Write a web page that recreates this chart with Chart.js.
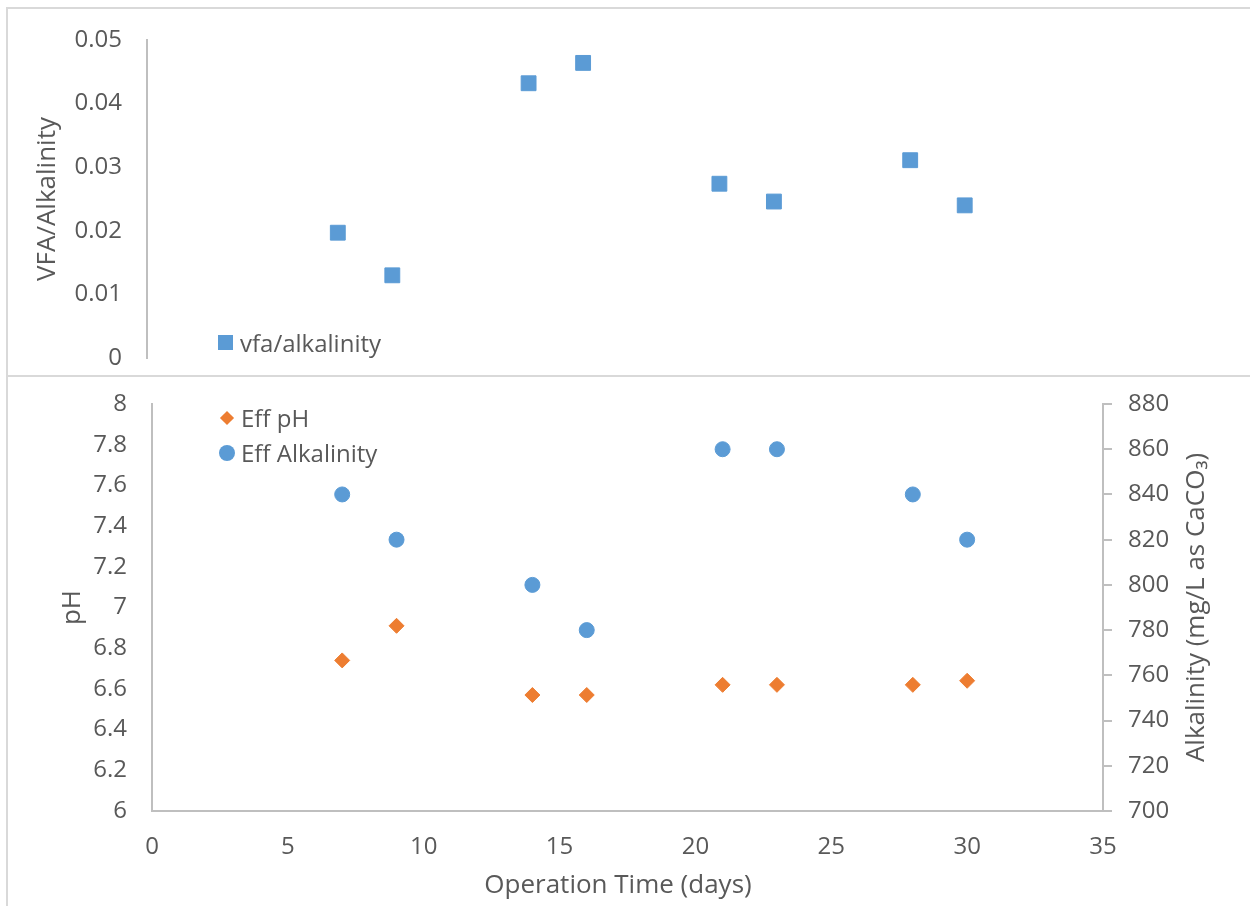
<!DOCTYPE html>
<html>
<head>
<meta charset="utf-8">
<script src="https://cdn.jsdelivr.net/npm/chart.js@4/dist/chart.umd.min.js"></script>
<style>
  html, body { margin: 0; padding: 0; background: #fff; }
  body { width: 1250px; height: 906px; position: relative; overflow: hidden; font-family: 'Open Sans', sans-serif; color: #595959; }
  canvas { position: absolute; left: 0; }
  #vfaChart { top: 0; }
  #phChart { top: 376px; }
  .frame { position: absolute; background: #d9d9d9; }
  .legend { position: absolute; font-size: 24px; line-height: 35px; color: #595959; }
  .legend div { position: relative; padding-left: 22px; white-space: nowrap; }
  .mk { position: absolute; left: 0; top: 50%; }
  .mk.sq { width: 15px; height: 15px; margin-top: -8px; background: #5b9bd5; }
  .mk.dia { width: 10px; height: 10px; margin-top: -5px; margin-left: 3px; background: #ed7d31; transform: rotate(45deg); }
  .mk.dot { width: 16px; height: 16px; margin-top: -8px; border-radius: 50%; background: #5b9bd5; }
</style>
</head>
<body>
<canvas id="vfaChart" width="1250" height="376"></canvas>
<canvas id="phChart" width="1250" height="530"></canvas>

<!-- chart frames -->
<div class="frame" style="left:7px;top:7px;width:1243px;height:2px"></div>
<div class="frame" style="left:7px;top:375px;width:1243px;height:2px"></div>
<div class="frame" style="left:6px;top:7px;width:2px;height:899px"></div>

<div class="legend" style="left:218px;top:325px">
  <div><span class="mk sq"></span>vfa/alkalinity</div>
</div>
<div class="legend" style="left:219px;top:400px">
  <div><span class="mk dia"></span>Eff pH</div>
  <div><span class="mk dot"></span>Eff Alkalinity</div>
</div>

<script>
// ---- data ----
const days      = [7, 9, 14, 16, 21, 23, 28, 30];
const vfaRatio  = [0.0197, 0.0130, 0.0432, 0.0464, 0.0274, 0.0246, 0.0311, 0.0240];
const effPH     = [6.74, 6.91, 6.57, 6.57, 6.62, 6.62, 6.62, 6.64];
const effAlk    = [840, 820, 800, 780, 860, 860, 840, 820];

const dayTicks  = [0, 5, 10, 15, 20, 25, 30, 35];
const vfaTicks  = [0, 0.01, 0.02, 0.03, 0.04, 0.05];
const phTicks   = [6, 6.2, 6.4, 6.6, 6.8, 7, 7.2, 7.4, 7.6, 7.8, 8];
const alkTicks  = [700, 720, 740, 760, 780, 800, 820, 840, 860, 880];

const TXT   = '#595959';
const AXIS  = '#bfbfbf';
const BLUE  = '#5b9bd5';
const ORNG  = '#ed7d31';
const FONT  = "'Open Sans', sans-serif";

const pts = (xs, ys) => xs.map((x, i) => ({ x: x, y: ys[i] }));
const fixTicks = list => scale => { scale.ticks = list.map(v => ({ value: v })); };
// fixed axis width, and no extra label padding pushing the plot area in
const fixWidth = w => scale => {
  scale.width = w;
  scale.paddingTop = 0;
  scale.paddingBottom = 0;
};

Chart.defaults.font.family = FONT;
Chart.defaults.color = TXT;

// ---- top chart: VFA / alkalinity ----
new Chart(document.getElementById('vfaChart'), {
  type: 'scatter',
  data: {
    datasets: [{
      label: 'vfa/alkalinity',
      data: pts(days, vfaRatio),
      pointStyle: 'rect',
      pointRadius: 10.5,
      pointHoverRadius: 10.5,
      backgroundColor: BLUE,
      borderColor: BLUE,
      borderWidth: 1,
    }],
  },
  options: {
    responsive: false,
    animation: false,
    events: [],
    layout: { padding: { left: 0, right: 149, top: 40, bottom: 18 } },
    plugins: { legend: { display: false }, tooltip: { enabled: false } },
    scales: {
      x: { type: 'linear', display: false, min: 0, max: 35 },
      y: {
        min: 0, max: 0.05,
        afterBuildTicks: fixTicks(vfaTicks),
        afterFit: fixWidth(147),
        grid: { display: false, drawTicks: false },
        border: { display: true, color: AXIS, width: 2 },
        ticks: { padding: 25, font: { size: 24 }, color: TXT, callback: v => String(v) },
        title: { display: true, text: 'VFA/Alkalinity', font: { size: 26 }, color: TXT, padding: { top: 32 } },
      },
    },
  },
});

// extra titles: right one reads bottom-to-top, bottom one is centred on the whole chart
const extraTitles = {
  id: 'extraTitles',
  afterDraw(chart) {
    const { ctx, chartArea } = chart;
    ctx.save();
    ctx.font = '26px ' + FONT;
    ctx.fillStyle = TXT;
    ctx.textAlign = 'center';
    ctx.textBaseline = 'middle';
    ctx.fillText('Operation Time (days)', 618, 510);
    ctx.translate(1197, (chartArea.top + chartArea.bottom) / 2);
    ctx.rotate(-Math.PI / 2);
    ctx.fillText('Alkalinity (mg/L as CaCO\u2083)', 0, 0);
    ctx.restore();
  },
};

// ---- bottom chart: pH and alkalinity ----
new Chart(document.getElementById('phChart'), {
  type: 'scatter',
  data: {
    datasets: [{
      label: 'Eff pH',
      data: pts(days, effPH),
      yAxisID: 'y',
      pointStyle: 'rectRot',
      pointRadius: 7.5,
      pointHoverRadius: 7.5,
      backgroundColor: ORNG,
      borderColor: ORNG,
      borderWidth: 1,
    }, {
      label: 'Eff Alkalinity',
      data: pts(days, effAlk),
      yAxisID: 'y2',
      pointStyle: 'circle',
      pointRadius: 7.5,
      pointHoverRadius: 7.5,
      backgroundColor: BLUE,
      borderColor: BLUE,
      borderWidth: 1,
    }],
  },
  options: {
    responsive: false,
    animation: false,
    events: [],
    layout: { padding: { left: 0, right: 0, top: 28, bottom: 0 } },
    plugins: { legend: { display: false }, tooltip: { enabled: false } },
    scales: {
      x: {
        type: 'linear', min: 0, max: 35,
        afterBuildTicks: fixTicks(dayTicks),
        afterFit: scale => { scale.height = 95; },
        grid: { display: false, drawTicks: false },
        border: { display: true, color: AXIS, width: 2 },
        ticks: { padding: 22, font: { size: 24 }, color: TXT, maxRotation: 0 },
        title: { display: false },
      },
      y: {
        position: 'left',
        min: 6, max: 8,
        afterBuildTicks: fixTicks(phTicks),
        afterFit: fixWidth(152),
        grid: { display: false, drawTicks: false },
        border: { display: true, color: AXIS, width: 2 },
        ticks: { padding: 25, font: { size: 24 }, color: TXT, callback: v => String(Math.round(v * 10) / 10) },
        title: { display: true, text: 'pH', font: { size: 26 }, color: TXT, padding: { top: 57 } },
      },
      y2: {
        position: 'right',
        min: 700, max: 880,
        afterBuildTicks: fixTicks(alkTicks),
        afterFit: fixWidth(147),
        grid: { display: true, drawOnChartArea: false, drawTicks: true, tickLength: 9, color: AXIS, lineWidth: 2 },
        border: { display: true, color: AXIS, width: 2 },
        ticks: { padding: 16, font: { size: 24 }, color: TXT },
        title: { display: false },
      },
    },
  },
  plugins: [extraTitles],
});
</script>
</body>
</html>
